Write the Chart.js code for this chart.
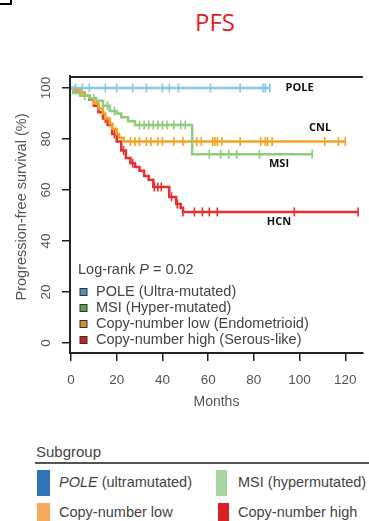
<!DOCTYPE html>
<html>
<head>
<meta charset="utf-8">
<script src="https://cdn.jsdelivr.net/npm/chart.js@4.4.1/dist/chart.umd.min.js"></script>
<style>
  body { margin: 0; width: 369px; height: 521px; overflow: hidden; background: #fff; position: relative;
         font-family: "Liberation Sans", Arial, sans-serif; color: #444; }
  #corner { position: absolute; left: 0; top: 0; width: 10px; height: 3px; border-right: 2px solid #000; border-bottom: 2px solid #000; }
  #title { position: absolute; left: 165px; width: 100px; top: 6px; text-align: center; color: #e3201f;
           font-family: "Open Sans", sans-serif; font-size: 24px; line-height: 32px; }
  #chartBox { position: absolute; left: 0; top: 0; width: 369px; height: 420px; }
  .t { position: absolute; font-size: 14.5px; line-height: 18px; white-space: nowrap; color: #444; }
  .sw { position: absolute; }
</style>
</head>
<body>
<div id="corner"></div>
<div id="title">PFS</div>
<div id="chartBox"><canvas id="kmChart" width="369" height="420"></canvas></div>

<!-- subgroup key under the plot -->
<div class="t" style="left:36px; top:443px; font-size:15px;">Subgroup</div>
<div style="position:absolute; left:35px; top:462px; width:334px; height:2px; background:#555;"></div>
<div class="sw" style="left:37px; top:470px; width:13px; height:26px; background:#2f74b5;"></div>
<div class="t" style="left:59px; top:473px;"><i>POLE</i> (ultramutated)</div>
<div class="sw" style="left:216px; top:470px; width:11px; height:26px; background:#a9d6a0;"></div>
<div class="t" style="left:238px; top:473px;">MSI (hypermutated)</div>
<div class="sw" style="left:37px; top:503px; width:13px; height:18px; background:#f7a95e;"></div>
<div class="t" style="left:59px; top:503px;">Copy-number low</div>
<div class="sw" style="left:218px; top:503px; width:11px; height:18px; background:#d91f26;"></div>
<div class="t" style="left:238px; top:503px;">Copy-number high</div>

<script>
// Kaplan-Meier steps: months and % progression-free
const poleTimes = [0, 87];
const poleSurv = [100, 100];
const poleCensor = [2, 5, 8, 15, 20, 27, 33, 40, 43, 47, 61, 74, 84, 85, 87];

const msiTimes = [0, 1, 4, 8, 11, 14, 17, 20, 22, 25, 28, 53, 105.5];
const msiSurv = [100, 98, 97, 96, 95, 93, 91, 90, 88.5, 87, 85.5, 74, 74];
const msiCensor = [6, 10, 16, 19, 30, 32, 34, 36, 38, 40, 42, 45, 48, 50, 60.5, 65.5, 69, 72.5, 82.5, 105.5];

const cnlTimes = [0, 2, 4, 6, 8, 10, 12, 14, 15, 17, 18, 20, 21, 23, 120];
const cnlSurv = [100, 99, 98, 97, 96, 94, 92, 90, 88, 86, 84, 82, 80.5, 79, 79];
const cnlCensor = [26, 28, 30, 33, 35, 38, 40, 45, 49, 53, 55, 57, 62, 63, 64, 66, 74, 83, 85, 86, 88, 111, 117, 120];

const hcnTimes = [0, 2, 4, 6, 8, 10, 12, 14, 16, 18, 20, 22, 24, 26, 28, 30, 32, 34, 36, 43, 46, 48, 49, 125.6];
const hcnSurv = [100, 99, 98, 97, 95.5, 93, 90.5, 88, 85.5, 82, 79, 75.5, 72.5, 70.5, 69, 67.5, 65.5, 64, 61.2, 57.3, 54.5, 53, 51.4, 51.4];
const hcnCensor = [15, 19, 23, 27, 36.5, 38, 39.5, 44, 46.5, 49, 54, 57.5, 60.5, 64, 97.7, 125.6];

const xTicks = [0, 20, 40, 60, 80, 100, 120];
const yTicks = [0, 20, 40, 60, 80, 100];

const legendNames = ['POLE (Ultra-mutated)', 'MSI (Hyper-mutated)', 'Copy-number low (Endometrioid)', 'Copy-number high (Serous-like)'];
const legendColors = ['#4f8fc0', '#5e9e4e', '#d88f2a', '#c62025'];

const curveNames = ['POLE', 'CNL', 'MSI', 'HCN'];

const colPole = '#86c6e6', colMsi = '#8fcc7c', colCnl = '#f4a321', colHcn = '#e5302f';

// value of the step curve at time t (for the censor ticks)
function survAt(times, surv, t) {
  let v = surv[0];
  for (let i = 0; i < times.length; i++) {
    if (times[i] <= t) v = surv[i];
  }
  return v;
}

function curve(times, surv, color) {
  return {
    data: times.map((t, i) => ({ x: t, y: surv[i] })),
    borderColor: color, borderWidth: 2.5, stepped: 'before',
    pointRadius: 0, fill: false
  };
}

function marks(times, surv, cens, color) {
  return {
    data: cens.map(t => ({ x: t, y: survAt(times, surv, t) })),
    showLine: false, pointStyle: 'line', pointRotation: 90, pointRadius: 4.5,
    pointBorderColor: color, pointBorderWidth: 1.6, borderColor: color
  };
}

const FONT = '"Liberation Sans", Arial, sans-serif';

// frame top, rotated y labels, curve names, inner legend
const plotExtras = {
  id: 'plotExtras',
  afterDraw(chart) {
    const { ctx, chartArea: a, scales: { x, y } } = chart;
    ctx.save();
    ctx.strokeStyle = '#222';
    ctx.lineWidth = 2;
    ctx.beginPath();
    ctx.moveTo(a.left - 1, a.top + 1);
    ctx.lineTo(a.right, a.top + 1);
    ctx.stroke();

    ctx.fillStyle = '#555';
    ctx.font = '13.5px ' + FONT;
    ctx.textAlign = 'center';
    ctx.textBaseline = 'middle';
    y.ticks.forEach(t => {
      ctx.save();
      ctx.translate(46, y.getPixelForValue(t.value));
      ctx.rotate(-Math.PI / 2);
      ctx.fillText(String(t.value), 0, 0);
      ctx.restore();
    });

    // y title, drawn here so it sits where the original has it
    ctx.save();
    ctx.translate(22, 207);
    ctx.rotate(-Math.PI / 2);
    ctx.font = '14.5px ' + FONT;
    ctx.fillText('Progression-free survival (%)', 0, 0);
    ctx.restore();

    // names next to the curves
    ctx.fillStyle = '#111';
    ctx.font = 'bold 11px "Open Sans", sans-serif';
    const spots = [[100, 100], [109, 84.3], [91, 70.2], [91, 47.4]];
    curveNames.forEach((n, i) => {
      ctx.fillText(n, x.getPixelForValue(spots[i][0]), y.getPixelForValue(spots[i][1]));
    });

    // log-rank + legend
    ctx.textAlign = 'left';
    ctx.fillStyle = '#444';
    ctx.font = '14.5px ' + FONT;
    let tx = 78;
    ctx.fillText('Log-rank ', tx, 270);
    tx += ctx.measureText('Log-rank ').width;
    ctx.font = 'italic 14.5px ' + FONT;
    ctx.fillText('P', tx, 270);
    tx += ctx.measureText('P').width;
    ctx.font = '14.5px ' + FONT;
    ctx.fillText(' = 0.02', tx, 270);

    legendNames.forEach((n, i) => {
      const ly = 292 + i * 16;
      ctx.fillStyle = legendColors[i];
      ctx.fillRect(80, ly - 3.5, 7, 7);
      ctx.strokeStyle = '#333';
      ctx.lineWidth = 1;
      ctx.strokeRect(80, ly - 3.5, 7, 7);
      ctx.fillStyle = '#444';
      ctx.fillText(n, 96, ly);
    });
    ctx.restore();
  }
};

new Chart(document.getElementById('kmChart'), {
  type: 'line',
  data: {
    datasets: [
      curve(poleTimes, poleSurv, colPole),
      curve(msiTimes, msiSurv, colMsi),
      curve(cnlTimes, cnlSurv, colCnl),
      curve(hcnTimes, hcnSurv, colHcn),
      marks(poleTimes, poleSurv, poleCensor, colPole),
      marks(msiTimes, msiSurv, msiCensor, colMsi),
      marks(cnlTimes, cnlSurv, cnlCensor, colCnl),
      marks(hcnTimes, hcnSurv, hcnCensor, colHcn)
    ]
  },
  options: {
    responsive: false,
    animation: false,
    events: [],
    layout: { padding: { top: 76, right: 0, left: 0, bottom: 0 } },
    plugins: { legend: { display: false }, tooltip: { enabled: false } },
    scales: {
      x: {
        type: 'linear', min: -0.43, max: 127.7,
        afterBuildTicks: s => { s.ticks = xTicks.map(v => ({ value: v })); },
        afterFit: s => { s.height = 67; s.paddingLeft = 0; s.paddingRight = 0; },
        grid: { drawOnChartArea: false, tickLength: 8, color: '#222', lineWidth: 1.5 },
        border: { display: true, color: '#222', width: 2 },
        ticks: { font: { family: FONT, size: 13.5 }, color: '#555', padding: 11, maxRotation: 0 },
        title: { display: true, text: 'Months', font: { family: FONT, size: 14 }, color: '#555', padding: { top: 0, bottom: 9 } }
      },
      y: {
        type: 'linear', min: -3.92, max: 104.7,
        afterBuildTicks: s => { s.ticks = yTicks.map(v => ({ value: v })); },
        afterFit: s => { s.width = 70; s.paddingTop = 0; s.paddingBottom = 0; },
        grid: { drawOnChartArea: false, tickLength: 8, color: '#222', lineWidth: 1.5 },
        border: { display: true, color: '#222', width: 2 },
        ticks: { display: false }
      }
    }
  },
  plugins: [plotExtras]
});
</script>
</body>
</html>
